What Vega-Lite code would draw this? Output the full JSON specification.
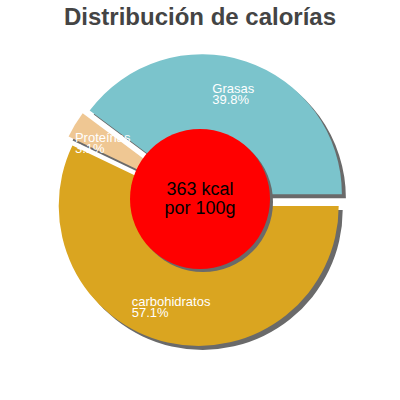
{
  "$schema": "https://vega.github.io/schema/vega-lite/v6.json",
  "width": 400,
  "height": 400,
  "padding": 0,
  "autosize": {"type": "none"},
  "background": "white",
  "title": {"text": "Distribución de calorías", "font": "Liberation Sans", "fontSize": 24, "fontWeight": "bold", "color": "#444444", "anchor": "middle", "offset": -30},
  "config": {"view": {"stroke": null}},
  "data": {"values": [
    {"name": "Grasas", "value": 0.398, "order": 1},
    {"name": "carbohidratos", "value": 0.571, "order": 2},
    {"name": "Proteínas", "value": 0.031, "order": 3}
  ]},
  "layer": [
    {
      "transform": [{"stack": "value", "groupby": [], "sort": [{"field": "order", "order": "ascending"}], "as": ["v0", "v1"]}],
      "encoding": {
        "theta": {"field": "v0", "type": "quantitative", "scale": {"domain": [0, 1], "range": [-0.9299, 5.3533], "zero": false}},
        "theta2": {"field": "v1"}
      },
      "layer": [
        {"transform": [{"filter": "datum.name === 'Grasas'"}], "mark": {"type": "arc", "outerRadius": 140, "fill": "#6a6a6a", "xOffset": 5.9, "yOffset": -1.7}},
        {"transform": [{"filter": "datum.name === 'carbohidratos'"}], "mark": {"type": "arc", "outerRadius": 140, "fill": "#6a6a6a", "xOffset": 2.7, "yOffset": 9.9}},
        {"transform": [{"filter": "datum.name === 'Proteínas'"}], "mark": {"type": "arc", "outerRadius": 140, "fill": "#6a6a6a", "xOffset": -1.1, "yOffset": 0.9}},
        {"transform": [{"filter": "datum.name === 'Grasas'"}], "mark": {"type": "arc", "outerRadius": 140, "fill": "#7bc4cc", "xOffset": 1.9, "yOffset": -5.7}},
        {"transform": [{"filter": "datum.name === 'carbohidratos'"}], "mark": {"type": "arc", "outerRadius": 140, "fill": "#daa520", "xOffset": -1.3, "yOffset": 5.9}},
        {"transform": [{"filter": "datum.name === 'Proteínas'"}], "mark": {"type": "arc", "outerRadius": 140, "fill": "#efc793", "xOffset": -5.1, "yOffset": -3.1}}
      ]
    },
    {
      "data": {"values": [{"label": "363 kcal\npor 100g"}]},
      "layer": [
        {"mark": {"type": "arc", "outerRadius": 70, "fill": "#6a6a6a", "xOffset": 3, "yOffset": 2}, "encoding": {}},
        {"mark": {"type": "arc", "outerRadius": 70, "fill": "#ff0000", "yOffset": -1}, "encoding": {}},
        {"mark": {"type": "text", "font": "Liberation Sans", "fontSize": 18, "color": "#000000", "align": "center", "baseline": "alphabetic", "lineBreak": "\n", "lineHeight": 19, "dy": -5}, "encoding": {"text": {"field": "label"}}}
      ]
    },
    {
      "encoding": {
        "theta": {"field": "value", "type": "quantitative", "stack": true, "scale": {"domain": [0, 1], "range": [-0.9299, 5.3533], "zero": false}},
        "order": {"field": "order", "type": "quantitative"}
      },
      "layer": [
        {"mark": {"type": "text", "radius": 100, "font": "Liberation Sans", "fontSize": 13, "color": "white", "align": "left", "baseline": "alphabetic", "dx": -19.2, "dy": -12.4}, "encoding": {"text": {"condition": {"test": "datum.name === 'Grasas'", "field": "name"}, "value": ""}}},
        {"mark": {"type": "text", "radius": 100, "font": "Liberation Sans", "fontSize": 13, "color": "white", "align": "left", "baseline": "alphabetic", "dx": -19.2, "dy": -0.8}, "encoding": {"text": {"condition": {"test": "datum.name === 'Grasas'", "field": "value", "format": ".1%"}, "value": ""}}},
        {"mark": {"type": "text", "radius": 100, "font": "Liberation Sans", "fontSize": 13, "color": "white", "align": "left", "baseline": "alphabetic", "dx": -46.2, "dy": 8.5}, "encoding": {"text": {"condition": {"test": "datum.name === 'carbohidratos'", "field": "name"}, "value": ""}}},
        {"mark": {"type": "text", "radius": 100, "font": "Liberation Sans", "fontSize": 13, "color": "white", "align": "left", "baseline": "alphabetic", "dx": -46.2, "dy": 19.5}, "encoding": {"text": {"condition": {"test": "datum.name === 'carbohidratos'", "field": "value", "format": ".1%"}, "value": ""}}},
        {"mark": {"type": "text", "radius": 100, "font": "Liberation Sans", "fontSize": 13, "color": "white", "align": "left", "baseline": "alphabetic", "dx": -39.5, "dy": -6.5}, "encoding": {"text": {"condition": {"test": "datum.name === 'Proteínas'", "field": "name"}, "value": ""}}},
        {"mark": {"type": "text", "radius": 100, "font": "Liberation Sans", "fontSize": 13, "color": "white", "align": "left", "baseline": "alphabetic", "dx": -39.5, "dy": 5.1}, "encoding": {"text": {"condition": {"test": "datum.name === 'Proteínas'", "field": "value", "format": ".1%"}, "value": ""}}}
      ]
    }
  ]
}
